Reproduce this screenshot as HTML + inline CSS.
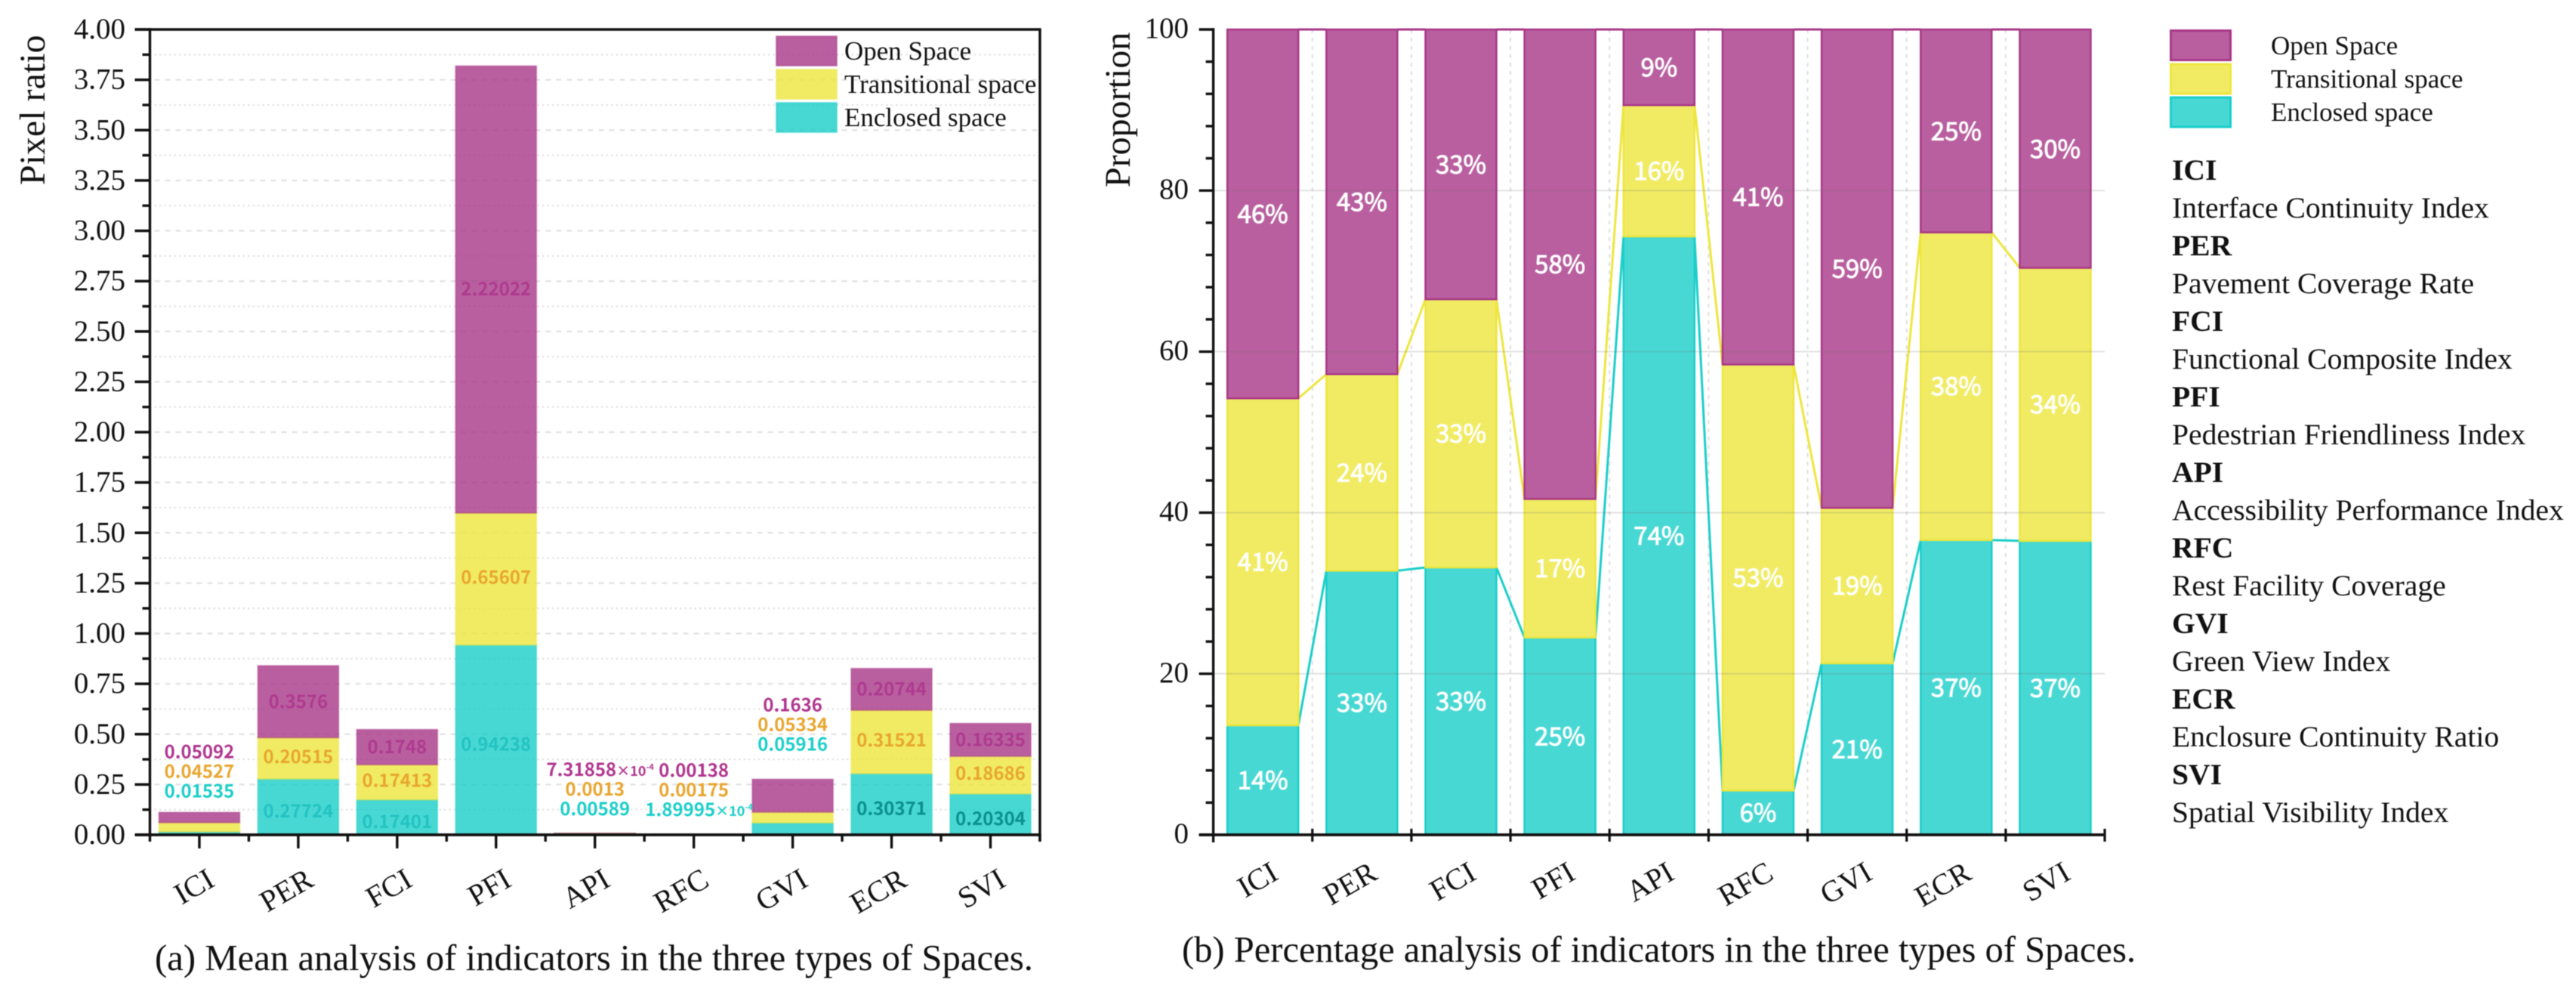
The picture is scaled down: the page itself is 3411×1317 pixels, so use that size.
<!DOCTYPE html>
<html lang="en">
<head>
<meta charset="utf-8">
<title>Indicator analysis in three types of spaces</title>
<style>
html,body{margin:0;padding:0;background:#fff;}
svg{display:block;filter:blur(.6px);}
.serif{font-family:"Liberation Serif",serif;fill:#111;}
.lab{font-family:"Noto Sans CJK SC","Liberation Sans",sans-serif;}
</style>
</head>
<body>
<svg id="fig" xmlns="http://www.w3.org/2000/svg" width="3411" height="1317" viewBox="0 0 3411 1317">
<rect x="0" y="0" width="3411" height="1317" fill="#fff"/>
<g id="chartA"></g>
<g id="chartB"></g>

<text class="serif" transform="translate(59,245) rotate(-90)" font-size="48">Pixel ratio</text>
<text class="serif" transform="translate(1496,248) rotate(-90)" font-size="48">Proportion</text>

<g>
<g>
<rect x="1028" y="48" width="80" height="39" fill="#A83787" fill-opacity=".8" stroke="#A83787" stroke-opacity=".5" stroke-width="2"/>
<text class="serif" x="1118" y="79" font-size="35">Open Space</text>
</g>
<g>
<rect x="1028" y="92" width="80" height="39" fill="#EEE63D" fill-opacity=".8" stroke="#EEE63D" stroke-opacity=".5" stroke-width="2"/>
<text class="serif" x="1118" y="123" font-size="35">Transitional space</text>
</g>
<g>
<rect x="1028" y="136" width="80" height="39" fill="#1ACEC9" fill-opacity=".8" stroke="#1ACEC9" stroke-opacity=".5" stroke-width="2"/>
<text class="serif" x="1118" y="167" font-size="35">Enclosed space</text>
</g>
</g>

<g>
<g>
<rect x="2874.5" y="40.5" width="79" height="39" fill="#A83787" fill-opacity=".8" stroke="#A83787" stroke-width="3"/>
<text class="serif" x="3007" y="72" font-size="35">Open Space</text>
</g>
<g>
<rect x="2874.5" y="85" width="79" height="39" fill="#EEE63D" fill-opacity=".8" stroke="#EEE63D" stroke-width="3"/>
<text class="serif" x="3007" y="116" font-size="35">Transitional space</text>
</g>
<g>
<rect x="2874.5" y="129" width="79" height="39" fill="#1ACEC9" fill-opacity=".8" stroke="#1ACEC9" stroke-width="3"/>
<text class="serif" x="3007" y="160" font-size="35">Enclosed space</text>
</g>
</g>

<g class="serif" font-size="39.6">
<text x="2876" y="238" font-weight="700">ICI</text>
<text x="2876" y="288">Interface Continuity Index</text>
<text x="2876" y="338" font-weight="700">PER</text>
<text x="2876" y="388">Pavement Coverage Rate</text>
<text x="2876" y="438" font-weight="700">FCI</text>
<text x="2876" y="488">Functional Composite Index</text>
<text x="2876" y="538" font-weight="700">PFI</text>
<text x="2876" y="588">Pedestrian Friendliness Index</text>
<text x="2876" y="638" font-weight="700">API</text>
<text x="2876" y="688">Accessibility Performance Index</text>
<text x="2876" y="738" font-weight="700">RFC</text>
<text x="2876" y="788">Rest Facility Coverage</text>
<text x="2876" y="838" font-weight="700">GVI</text>
<text x="2876" y="888">Green View Index</text>
<text x="2876" y="938" font-weight="700">ECR</text>
<text x="2876" y="988">Enclosure Continuity Ratio</text>
<text x="2876" y="1038" font-weight="700">SVI</text>
<text x="2876" y="1088">Spatial Visibility Index</text>
</g>

<text class="serif" x="205" y="1284" font-size="48.7" textLength="1163" lengthAdjust="spacingAndGlyphs">(a) Mean analysis of indicators in the three types of Spaces.</text>
<text class="serif" x="1565" y="1273" font-size="48.7" textLength="1263" lengthAdjust="spacingAndGlyphs">(b) Percentage analysis of indicators in the three types of Spaces.</text>
</svg>

<script>
const categories = ['ICI','PER','FCI','PFI','API','RFC','GVI','ECR','SVI'];

// Chart (a): mean pixel ratio
const enclosedMean = [0.01535,0.27724,0.17401,0.94238,0.00589,0.000189995,0.05916,0.30371,0.20304];
const transitionalMean = [0.04527,0.20515,0.17413,0.65607,0.0013,0.00175,0.05334,0.31521,0.18686];
const openMean = [0.05092,0.3576,0.1748,2.22022,0.000731858,0.00138,0.1636,0.20744,0.16335];
const enclosedMeanLabels = ['0.01535','0.27724','0.17401','0.94238','0.00589','1.89995×10-4','0.05916','0.30371','0.20304'];
const transitionalMeanLabels = ['0.04527','0.20515','0.17413','0.65607','0.0013','0.00175','0.05334','0.31521','0.18686'];
const openMeanLabels = ['0.05092','0.3576','0.1748','2.22022','7.31858×10-4','0.00138','0.1636','0.20744','0.16335'];
const meanTicks = ['0.00','0.25','0.50','0.75','1.00','1.25','1.50','1.75','2.00','2.25','2.50','2.75','3.00','3.25','3.50','3.75','4.00'];

// Chart (b): proportions
const enclosedShare = [13.6,32.8,33.2,24.5,74.3,5.5,21.3,36.6,36.5];
const transitionalShare = [40.6,24.4,33.3,17.2,16.3,52.9,19.3,38.2,33.9];
const openShare = [45.8,42.8,33.5,58.3,9.4,41.6,59.4,25.2,29.6];
const enclosedShareLabels = ['14%','33%','33%','25%','74%','6%','21%','37%','37%'];
const transitionalShareLabels = ['41%','24%','33%','17%','16%','53%','19%','38%','34%'];
const openShareLabels = ['46%','43%','33%','58%','9%','41%','59%','25%','30%'];
const shareTicks = ['0','20','40','60','80','100'];

const MAG='#A83787', YEL='#EEE63D', TEAL='#1ACEC9', INK='#111';
const SVGNS='http://www.w3.org/2000/svg';

function mk(parent, tag, attrs, name){
  const el=document.createElementNS(SVGNS,tag);
  for(const k in attrs){ el.setAttribute(k,attrs[k]); }
  
  
  parent.appendChild(el);
  return el;
}
function line(p,x1,y1,x2,y2,stroke,w,dash,name){
  const a={x1:x1,y1:y1,x2:x2,y2:y2,stroke:stroke,'stroke-width':w};
  if(dash){a['stroke-dasharray']=dash;}
  return mk(p,'line',a,name);
}
function serif(p,txt,x,y,size,anchor,name){
  const t=mk(p,'text',{x:x,y:y,'font-size':size,'text-anchor':anchor,'class':'serif'},name);
  t.textContent=txt;
  return t;
}
function catLabel(p,txt,x,y,name){
  const t=mk(p,'text',{x:x,y:y,'font-size':40,'text-anchor':'end','class':'serif',dy:'.33em',transform:'rotate(-30 '+x+' '+y+')'},name);
  t.textContent=txt;
  return t;
}

/* ---------- Chart A ---------- */
(function(){
  const g=document.getElementById('chartA');
  const L=198.5,R=1377,T=39,B=1105,maxV=4;
  const step=(R-L)/categories.length;
  const barW=107;
  const y=v=>B-(v/maxV)*(B-T);
  const xc=i=>L+step*(i+0.5);

  // grid
  for(let i=1;i<16;i++){
    const v=i*0.25;
    line(g,L+6,y(v),R-4,y(v),'#e2e2e2',2.2,'7 7','grid-major');
    line(g,L+6,y(v-0.125),R-4,y(v-0.125),'#e2e2e2',2.2,'2.5 4','grid-minor');
  }
  line(g,L+6,y(3.875),R-4,y(3.875),'#e2e2e2',2.2,'2.5 4','grid-minor');

  // bars
  const series=[
    {vals:enclosedMean,col:TEAL,name:'enclosed'},
    {vals:transitionalMean,col:YEL,name:'transitional'},
    {vals:openMean,col:MAG,name:'open'}
  ];
  categories.forEach((c,i)=>{
    let acc=0;
    series.forEach(s=>{
      const v=s.vals[i];
      const y1=y(acc+v), y0=y(acc);
      mk(g,'rect',{x:xc(i)-barW/2,y:y1,width:barW,height:Math.max(y0-y1,0.5),fill:s.col,'fill-opacity':.8,stroke:s.col,'stroke-opacity':.4,'stroke-width':2},'bar-'+s.name+'-'+c);
      acc+=v;
    });
  });

  // value labels
  const lifted={ICI:20,API:24,RFC:24,GVI:38};
  const pitch=26;
  const darkEnclosed=['ECR','SVI'];
  function valueLabel(txt,x,yy,col,name){
    const parts=txt.split('×');
    const t=mk(g,'text',{x:parts.length>1?x+7:x,y:yy,'font-size':24,'font-weight':700,'text-anchor':'middle','class':'lab',fill:col},name);
    if(parts.length>1){
      const pow=parts[1].slice(2);
      t.textContent=parts[0];
      const a=mk(t,'tspan',{'font-size':18},'value-label-multiplier');
      a.textContent='×10';
      const b=mk(t,'tspan',{'font-size':11,dy:-8},'value-label-exponent');
      b.textContent=pow;
    } else {
      t.textContent=txt;
    }
  }
  categories.forEach((c,i)=>{
    const e=enclosedMean[i],tr=transitionalMean[i],o=openMean[i];
    const top=y(e+tr+o);
    const eCol=darkEnclosed.includes(c)?'#0A8F8E':'#22C3C2';
    if(lifted[c]!==undefined){
      const gap=lifted[c];
      valueLabel(enclosedMeanLabels[i],xc(i),top-gap,'#1ACEC9','value-label-enclosed-'+c);
      valueLabel(transitionalMeanLabels[i],xc(i),top-gap-pitch,'#E8A62E','value-label-transitional-'+c);
      valueLabel(openMeanLabels[i],xc(i),top-gap-pitch*2,'#B0358F','value-label-open-'+c);
    } else {
      valueLabel(enclosedMeanLabels[i],xc(i),(y(0)+y(e))/2+14,eCol,'value-label-enclosed-'+c);
      valueLabel(transitionalMeanLabels[i],xc(i),(y(e)+y(e+tr))/2+6,'#E8A62E','value-label-transitional-'+c);
      valueLabel(openMeanLabels[i],xc(i),(y(e+tr)+y(e+tr+o))/2+8,'#AE3A90','value-label-open-'+c);
    }
  });

  // axes
  meanTicks.forEach((lab,i)=>{
    const v=parseFloat(lab);
    line(g,L-20,y(v),L,y(v),INK,3.4,null,'y-tick-major');
    if(i<meanTicks.length-1){ line(g,L-10,y(v+0.125),L,y(v+0.125),INK,3.4,null,'y-tick-minor'); }
    serif(g,lab,166,y(v)+12,39,'end','y-tick-label');
  });
  line(g,L,T-1.7,L,B+9,INK,3.4,null,'y-axis-line');
  line(g,L-20,T,R+1.7,T,INK,3.4,null,'top-axis-line');
  line(g,R,T,R,B+9,INK,3.4,null,'right-axis-line');
  line(g,L-20,B,R+1.7,B,INK,3.8,null,'x-axis-line');
  categories.forEach((c,i)=>{
    line(g,xc(i),B,xc(i),B+18,INK,3.4,null,'x-tick-major');
    line(g,L+step*(i+1),B,L+step*(i+1),B+9,INK,3.4,null,'x-tick-minor');
    catLabel(g,c,xc(i)+16,1160,'x-tick-label-'+c);
  });
})();

/* ---------- Chart B ---------- */
(function(){
  const g=document.getElementById('chartB');
  const L=1606.6,R=2787,T=39,B=1105,maxV=100;
  const step=(R-L)/categories.length;
  const barW=94;
  const y=v=>B-(v/maxV)*(B-T);
  const xc=i=>L+step*(i+0.5);

  // vertical dotted guides
  categories.forEach((c,i)=>{
    if(i<categories.length-1){
      line(g,L+step*(i+1),T,L+step*(i+1),B,'#dedede',2,'5 6','grid-vertical');
    }
  });

  // connector lines
  function connectors(vals,col,name){
    for(let i=0;i<categories.length-1;i++){
      line(g,xc(i)+barW/2,y(vals(i)),xc(i+1)-barW/2,y(vals(i+1)),col,3,null,'connector-'+name);
    }
  }
  connectors(i=>enclosedShare[i],TEAL,'enclosed');
  connectors(i=>enclosedShare[i]+transitionalShare[i],YEL,'transitional');
  connectors(i=>enclosedShare[i]+transitionalShare[i]+openShare[i],MAG,'open');

  // bars
  const series=[
    {vals:enclosedShare,labs:enclosedShareLabels,col:TEAL,name:'enclosed'},
    {vals:transitionalShare,labs:transitionalShareLabels,col:YEL,name:'transitional'},
    {vals:openShare,labs:openShareLabels,col:MAG,name:'open'}
  ];
  categories.forEach((c,i)=>{
    let acc=0;
    series.forEach(s=>{
      const v=s.vals[i];
      const y1=y(acc+v),y0=y(acc);
      mk(g,'rect',{x:xc(i)-barW/2,y:y1,width:barW,height:y0-y1,fill:s.col,'fill-opacity':.8,stroke:s.col,'stroke-width':2.5},'bar-share-'+s.name+'-'+c);
      acc+=v;
    });
  });

  // horizontal grid (shows through bars)
  shareTicks.slice(1,-1).forEach(lab=>{
    const v=parseFloat(lab);
    line(g,L,y(v),R,y(v),'rgba(110,110,110,.2)',2,null,'grid-horizontal');
  });

  // percentage labels
  categories.forEach((c,i)=>{
    let acc=0;
    series.forEach(s=>{
      const v=s.vals[i];
      const t=mk(g,'text',{x:xc(i),y:(y(acc)+y(acc+v))/2+12,'font-size':33,'text-anchor':'middle','class':'lab',fill:'#fff',stroke:'#fff','stroke-width':.9},'percent-label-'+s.name+'-'+c);
      t.textContent=s.labs[i];
      acc+=v;
    });
  });

  // axes
  shareTicks.forEach((lab,i)=>{
    const v=parseFloat(lab);
    line(g,L-19,y(v),L,y(v),INK,3.4,null,'y-tick-major-b');
    if(i<shareTicks.length-1){
      [4,8,12,16].forEach(d=>{ line(g,L-10,y(v+d),L,y(v+d),INK,3.4,null,'y-tick-minor-b'); });
    }
    serif(g,lab,1574,y(v)+11,39,'end','y-tick-label-b');
  });
  line(g,L,T-1.7,L,B+10,INK,3.4,null,'y-axis-line-b');
  line(g,L-19,B,R,B,INK,3.8,null,'x-axis-line-b');
  line(g,L+step*9,B-8,L+step*9,B+9,INK,3.2,null,'x-tick-end-b');
  categories.forEach((c,i)=>{
    if(i<categories.length-1){
      line(g,L+step*(i+1),B-8,L+step*(i+1),B+9,INK,3.2,null,'x-tick-b');
    }
    catLabel(g,c,xc(i)+16,1151,'x-tick-label-b-'+c);
  });
})();
</script>
</body>
</html>
